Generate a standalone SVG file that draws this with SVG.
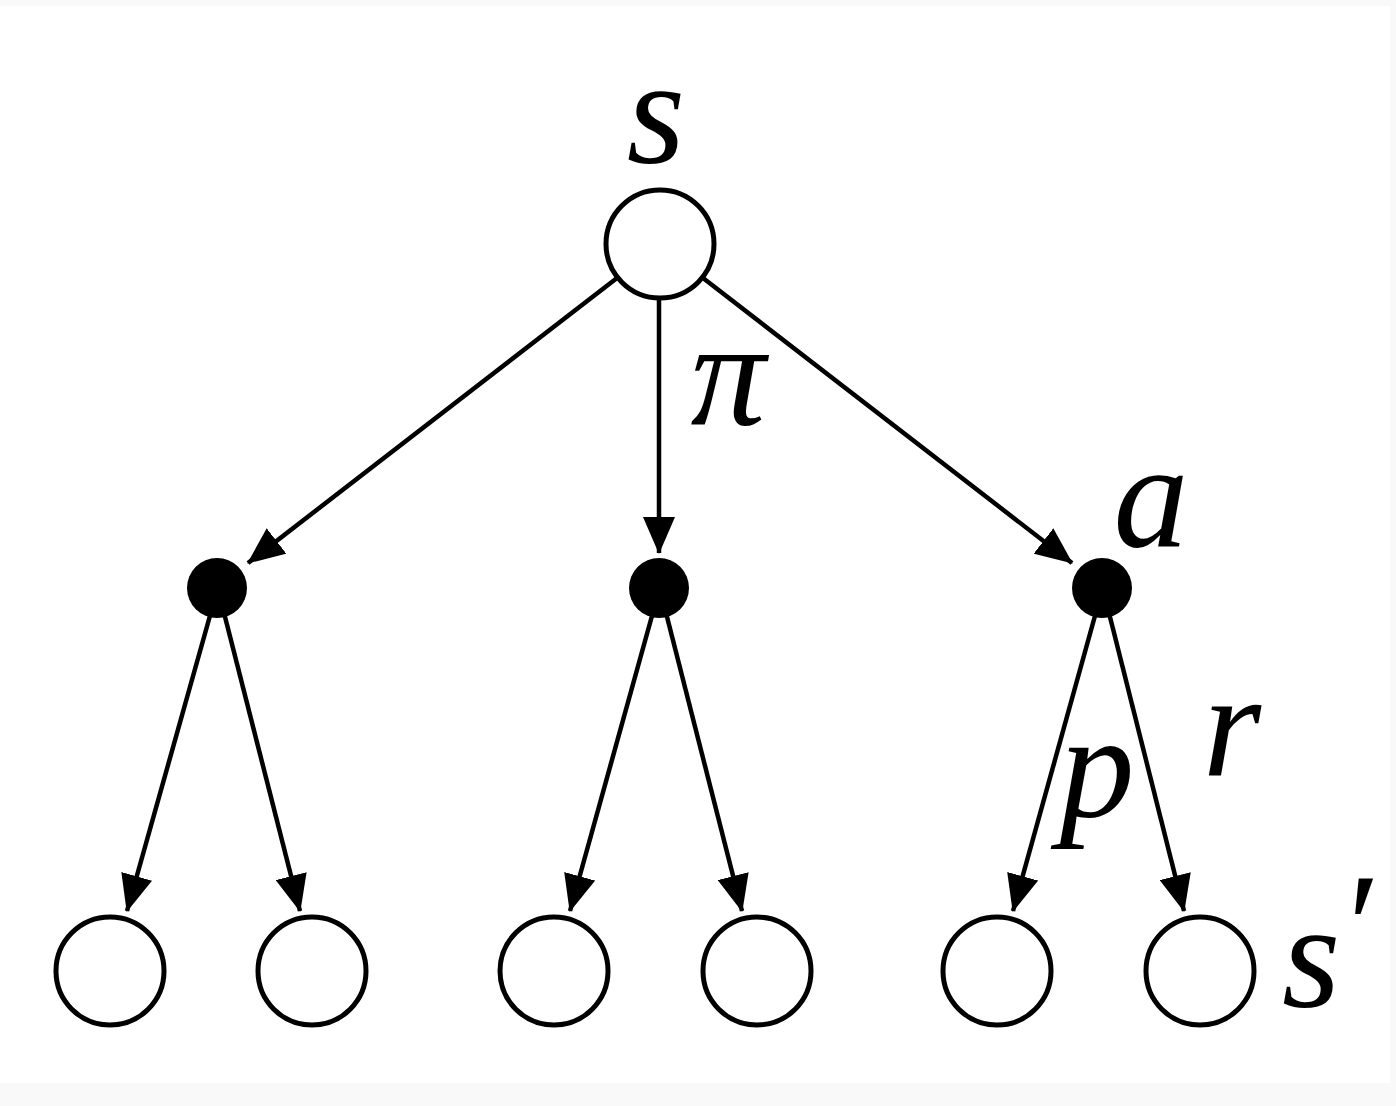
<svg xmlns="http://www.w3.org/2000/svg" width="1396" height="1106" viewBox="0 0 1396 1106">
<style>
.open{fill:#fff;stroke:#000;stroke-width:5}
.dot{fill:#000}
.edge{stroke:#000;stroke-width:4.5;fill:none;marker-end:url(#ah)}
.lbl{font-family:"Liberation Serif","DejaVu Serif",serif;font-style:italic;font-size:150px;fill:#000;text-anchor:middle}
</style>
<defs>
<marker id="ah" markerUnits="userSpaceOnUse" markerWidth="38" markerHeight="32" refX="36" refY="16" orient="auto" viewBox="0 0 38 32">
<path d="M0,0 L37,16 L0,32 z" fill="#000"/>
</marker>
</defs>
<rect x="0" y="0" width="1396" height="1106" fill="#f9f9f9"/>
<rect x="0" y="6" width="1390" height="1077" fill="#fff"/>
<g id="connectors">
<line class="edge" x1="617" y1="278" x2="248" y2="563"/>
<line class="edge" x1="659" y1="299" x2="659" y2="553"/>
<line class="edge" x1="703" y1="278" x2="1072" y2="563"/>
<line class="edge" x1="213" y1="605" x2="127" y2="911"/>
<line class="edge" x1="222" y1="605" x2="300" y2="911"/>
<line class="edge" x1="655" y1="605" x2="570" y2="911"/>
<line class="edge" x1="664" y1="605" x2="742" y2="911"/>
<line class="edge" x1="1098" y1="605" x2="1013" y2="911"/>
<line class="edge" x1="1107" y1="605" x2="1184" y2="911"/>
</g>
<g id="node-s"><circle class="open" cx="660" cy="244" r="54"/><text class="lbl" x="656" y="163">s</text></g>
<g id="label-pi"><text class="lbl" x="728" y="425">π</text></g>
<g id="node-a1"><circle class="dot" cx="217" cy="588" r="30"/></g>
<g id="node-a2"><circle class="dot" cx="659" cy="588" r="30"/></g>
<g id="node-a3"><circle class="dot" cx="1102" cy="588" r="30"/><text class="lbl" x="1151" y="546">a</text></g>
<g id="label-p"><text class="lbl" x="1097" y="817">p</text></g>
<g id="label-r"><text class="lbl" x="1232" y="776">r</text></g>
<g id="leaf1"><circle class="open" cx="110" cy="971" r="54"/></g>
<g id="leaf2"><circle class="open" cx="312" cy="971" r="54"/></g>
<g id="leaf3"><circle class="open" cx="554" cy="971" r="54"/></g>
<g id="leaf4"><circle class="open" cx="757" cy="971" r="54"/></g>
<g id="leaf5"><circle class="open" cx="997" cy="971" r="54"/></g>
<g id="leaf6"><circle class="open" cx="1200" cy="971" r="54"/><text class="lbl" x="1282" y="1007" style="text-anchor:start">s<tspan dx="-2" dy="-30">′</tspan></text></g>
</svg>
